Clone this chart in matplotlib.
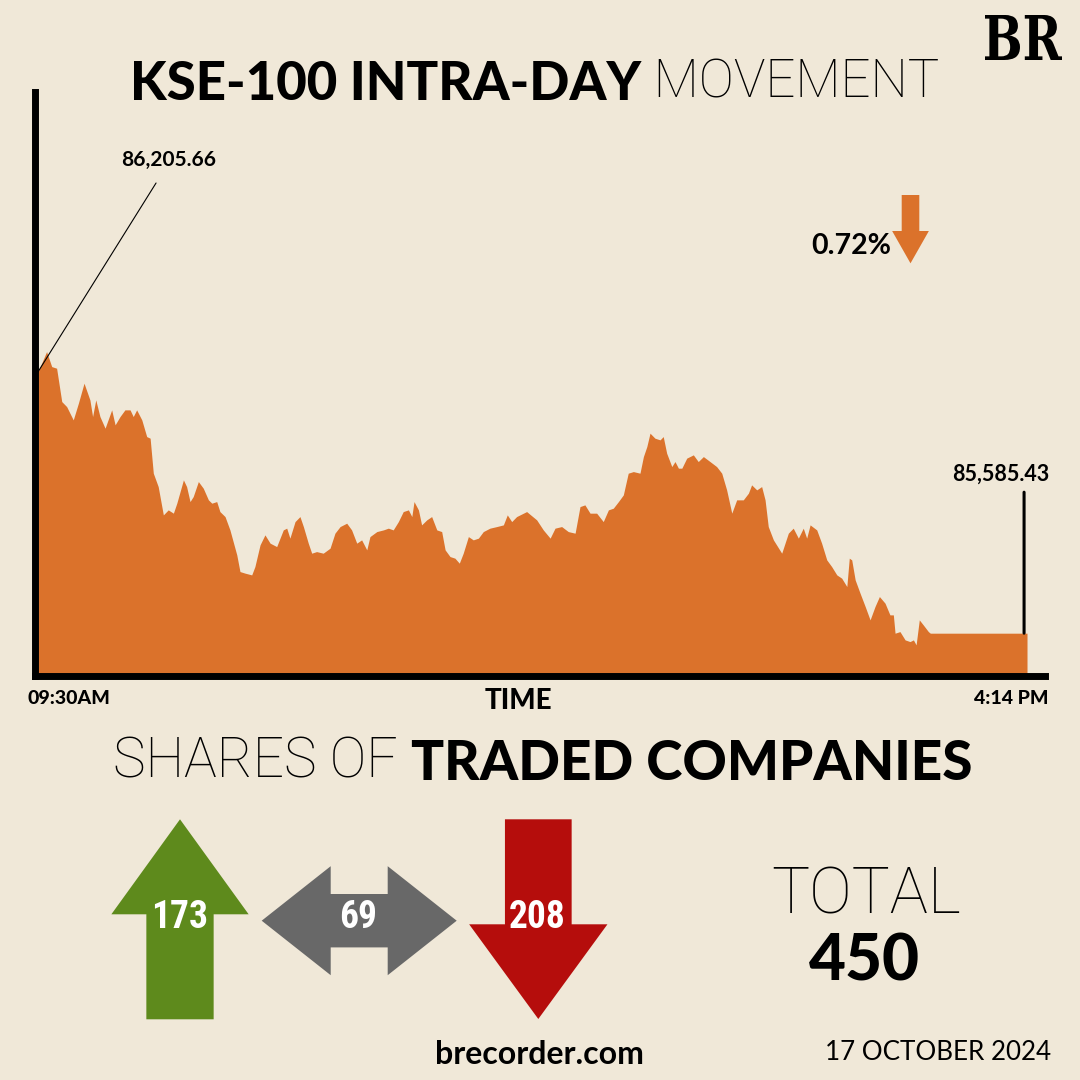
import matplotlib
matplotlib.use('agg')
import matplotlib.pyplot as plt
from matplotlib.patches import FancyArrow, PathPatch, Polygon
from matplotlib.textpath import TextPath
from matplotlib.font_manager import FontProperties
from matplotlib.transforms import Affine2D

# KSE-100 intraday, minutes after 09:30 and index level
times = [0, 3.5, 5.6, 7.6, 9.7, 11.7, 14.4, 16.5, 18.8, 21.2,
         22.3, 23.6, 25.3, 27.4, 30.1, 31.5, 33.5, 35.5, 37.6, 38.9,
         40.3, 42.4, 44.4, 45.8, 47.1, 49.1, 51.2, 53.2, 55.3, 56.7,
         59.4, 60.7, 62.1, 63.4, 65.5, 67.5, 69.6, 71.0, 73.0, 74.3,
         76.4, 78.4, 81.2, 82.5, 84.6, 87.3, 88.6, 90.7, 92.7, 94.8,
         97.5, 100.2, 101.6, 102.9, 105.0, 107.0, 108.4, 110.4, 111.8, 113.8,
         116.5, 119.3, 121.3, 123.4, 126.1, 128.1, 130.2, 132.2, 134.3, 135.6,
         138.4, 141.1, 143.1, 145.1, 147.2, 149.2, 151.3, 152.7, 153.6, 155.4,
         156.7, 158.8, 160.8, 162.9, 164.9, 166.3, 168.3, 170.3, 172.1, 173.7,
         175.8, 177.8, 179.9, 181.9, 184.6, 187.4, 190.1, 191.7, 193.5, 195.5,
         199.6, 203.7, 206.4, 209.2, 211.2, 213.9, 216.6, 219.4, 221.4, 223.4,
         225.5, 228.2, 230.9, 233.0, 235.0, 237.1, 239.1, 241.1, 243.2, 245.9,
         247.3, 248.7, 250.0, 252.0, 254.1, 255.4, 256.8, 258.9, 260.2, 261.6,
         263.0, 265.0, 267.7, 269.7, 271.8, 274.5, 277.2, 279.3, 281.3, 283.4,
         285.4, 288.1, 290.2, 291.5, 293.6, 295.6, 297.0, 298.3, 300.4, 303.8,
         306.5, 308.5, 310.6, 312.6, 314.0, 315.4, 318.1, 320.1, 322.2, 324.2,
         326.3, 328.3, 330.4, 331.4, 332.4, 333.8, 335.8, 337.9, 339.9, 341.9,
         343.7, 346.0, 348.0, 349.4, 350.1, 352.1, 354.2, 356.2, 357.6, 358.7,
         360.0, 361.6, 363.7, 364.5, 404]
values = [86205.66, 86253.8, 86218.2, 86214.4, 86135.2, 86123.3, 86091.7, 86131.4, 86178.8, 86139.2,
          86099.6, 86139.2, 86099.6, 86072.0, 86115.5, 86079.9, 86099.6, 86115.5, 86115.5, 86099.6,
          86115.5, 86091.7, 86052.1, 86048.3, 85965.2, 85933.4, 85866.2, 85878.1, 85870.3, 85894.0,
          85949.3, 85933.4, 85897.8, 85909.7, 85945.3, 85929.6, 85901.9, 85894.0, 85897.8, 85874.1,
          85862.2, 85830.6, 85771.3, 85731.7, 85727.9, 85723.8, 85743.5, 85795.0, 85818.8, 85799.1,
          85791.0, 85830.6, 85834.7, 85811.0, 85850.3, 85862.2, 85838.5, 85799.1, 85775.3, 85779.1,
          85775.3, 85787.2, 85822.8, 85838.5, 85846.5, 85830.6, 85799.1, 85806.9, 85783.2, 85814.7,
          85826.6, 85830.6, 85834.7, 85830.6, 85850.3, 85874.1, 85878.1, 85862.2, 85897.8, 85878.1,
          85842.5, 85854.4, 85862.2, 85830.6, 85826.6, 85783.2, 85767.3, 85763.5, 85751.6, 85775.3,
          85814.7, 85806.9, 85811.0, 85826.6, 85834.7, 85838.5, 85842.5, 85866.2, 85850.3, 85862.2,
          85874.1, 85854.4, 85830.6, 85811.0, 85834.7, 85838.5, 85826.6, 85822.8, 85885.9, 85890.0,
          85870.3, 85870.3, 85850.3, 85878.1, 85882.1, 85897.8, 85913.7, 85965.2, 85969.0, 85965.2,
          86004.6, 86028.4, 86060.2, 86048.3, 86044.3, 86052.1, 86012.7, 85980.9, 85992.8, 85977.1,
          85977.1, 86000.9, 86008.7, 85992.8, 86004.6, 85992.8, 85980.9, 85965.2, 85925.6, 85870.3,
          85901.9, 85901.9, 85917.8, 85937.5, 85925.6, 85933.4, 85901.9, 85838.5, 85806.9, 85775.3,
          85822.8, 85834.7, 85811.0, 85834.7, 85811.0, 85842.5, 85830.6, 85799.1, 85759.4, 85743.5,
          85723.8, 85716.0, 85696.1, 85763.5, 85759.4, 85712.0, 85680.4, 85648.6, 85617.0, 85648.6,
          85672.4, 85656.7, 85628.9, 85628.9, 85585.4, 85589.2, 85569.5, 85565.5, 85569.5, 85557.7,
          85617.0, 85605.2, 85589.2, 85585.43, 85585.43]

open_label = '86,205.66'
close_label = '85,585.43'
change_label = '0.72%'
time_labels = ['09:30AM', '4:14 PM']

# advancers / unchanged / decliners
counts = [173, 69, 208]
total = sum(counts)
date_label = '17 OCTOBER 2024'

BG = '#F0E8D8'
ORANGE = '#DB722B'
GREEN = '#5E8A1C'
GREY = '#686868'
RED = '#B50D0C'

plt.rcParams['font.family'] = ['Lato', 'DejaVu Sans']
THIN = ['Roboto', 'Lato', 'DejaVu Sans']

fig = plt.figure(figsize=(10.8, 10.8), dpi=100, facecolor=BG)

# chart area
ax = fig.add_axes([34.5 / 1080, 1 - 675.5 / 1080, 1010.5 / 1080, 583.5 / 1080])
ax.set_facecolor('none')
ymin = 85485
ax.fill_between(times, values, ymin, color=ORANGE, lw=0)
ax.set_xlim(-1.43, 411.35)
ax.set_ylim(ymin, 86870)
ax.set_xticks([])
ax.set_yticks([])
for s in ['top', 'right']:
    ax.spines[s].set_visible(False)
for s in ['left', 'bottom']:
    ax.spines[s].set_linewidth(5)
    ax.spines[s].set_color('black')

# leader lines to open and close values
ax.annotate('', xy=(times[0], values[0]), xytext=(85, 136), textcoords='offset points',
            arrowprops=dict(arrowstyle='-', lw=0.8, color='black', shrinkA=0, shrinkB=0))
ax.annotate('', xy=(times[-1] - 1.2, values[-1]), xytext=(0, 101.5), textcoords='offset points',
            arrowprops=dict(arrowstyle='-', lw=2.2, color='black', shrinkA=0, shrinkB=0))

# overlay in pixel coords for the infographic bits
ov = fig.add_axes([0, 0, 1, 1], facecolor='none')
ov.set_xlim(0, 1080)
ov.set_ylim(1080, 0)
ov.axis('off')

t1 = ov.text(130, 109, 'KSE-100 INTRA-DAY', fontsize=38, fontweight='black', va='bottom')
ov.annotate(' MOVEMENT', xy=(1, 0), xycoords=t1, fontsize=38, fontweight='light',
            family=THIN, va='bottom')

# BR logo, squeezed serif
tp = TextPath((0, 0), 'BR', size=100, prop=FontProperties(family='DejaVu Serif', weight='bold'))
bb = tp.get_extents()
sx = 77 / bb.width
sy = 45 / bb.height
logo_tr = Affine2D().translate(-bb.x0, -bb.y0).scale(sx, -sy).translate(985, 60)
ov.add_patch(PathPatch(logo_tr.transform_path(tp), color='black', lw=0))

ov.text(169, 160, open_label, fontsize=15, fontweight='bold', ha='center', va='center')
ov.text(1001, 474, close_label, fontsize=15.5, fontweight='bold', ha='center', va='center')
ov.text(851, 246, change_label, fontsize=20.5, fontweight='bold', ha='center', va='center')
ov.add_patch(FancyArrow(910.5, 195, 0, 68.3, width=17.6, head_width=36.7, head_length=32.3,
                        length_includes_head=True, color=ORANGE, lw=0))

ov.text(69, 698, time_labels[0], fontsize=14, fontweight='black', ha='center', va='center')
ov.text(1011, 698, time_labels[1], fontsize=14, fontweight='black', ha='center', va='center')
ov.text(518, 701, 'TIME', fontsize=20, fontweight='black', ha='center', va='center')

t3 = ov.text(113, 789, 'SHARES OF ', fontsize=39.5, fontweight='light', family=THIN, va='bottom')
ov.annotate('TRADED COMPANIES', xy=(1, 0), xycoords=t3, fontsize=39.5, fontweight='black', va='bottom')

# shares arrows
ov.add_patch(FancyArrow(180, 1019.3, 0, -200, width=67.3, head_width=137.3, head_length=95,
                        length_includes_head=True, color=GREEN, lw=0))

# double-headed grey arrow as one outline
cx, cy, half, sw, hw, hl = 359.2, 920.7, 97.5, 53.4, 109, 69
grey_outline = [(cx - half, cy), (cx - half + hl, cy - hw / 2), (cx - half + hl, cy - sw / 2),
                (cx + half - hl, cy - sw / 2), (cx + half - hl, cy - hw / 2), (cx + half, cy),
                (cx + half - hl, cy + hw / 2), (cx + half - hl, cy + sw / 2),
                (cx - half + hl, cy + sw / 2), (cx - half + hl, cy + hw / 2)]
ov.add_patch(Polygon(grey_outline, closed=True, color=GREY, lw=0))

ov.add_patch(FancyArrow(538.3, 819.3, 0, 199.7, width=66.7, head_width=138.3, head_length=94.7,
                        length_includes_head=True, color=RED, lw=0))

for x, n in zip([180, 358, 537], counts):
    ov.text(x, 918, str(n), fontsize=27, fontweight='heavy', color='white',
            family=['Roboto Condensed', 'DejaVu Sans'], fontstretch='condensed',
            ha='center', va='center')

ov.text(866, 896, 'TOTAL', fontsize=46, fontweight='light', family=THIN, ha='center', va='center')
ov.text(864, 962, str(total), fontsize=46, fontweight='black', ha='center', va='center')

ov.text(539, 1055, 'brecorder.com', fontsize=23, fontweight='bold', ha='center', va='center')
ov.text(938, 1053, date_label, fontsize=18.7, ha='center', va='center')

fig.savefig('out.png', dpi=100, facecolor=BG)
